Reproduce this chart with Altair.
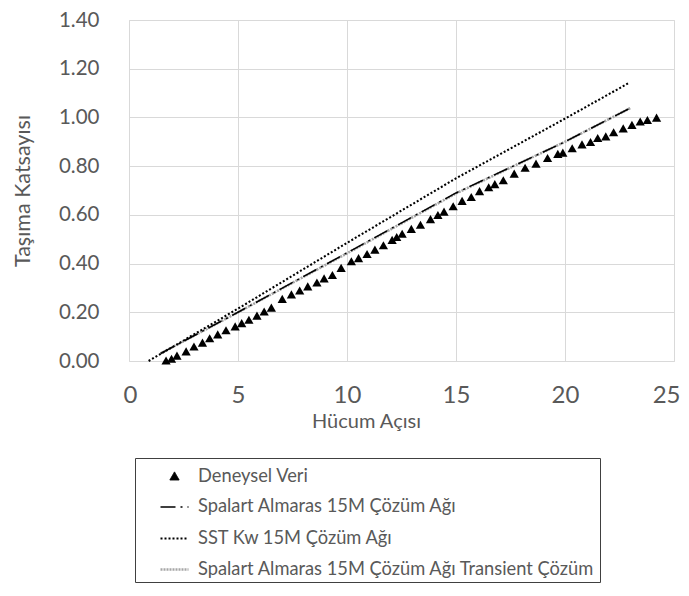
import altair as alt
import pandas as pd

series_names = [
    "Deneysel Veri",
    "Spalart Almaras 15M Çözüm Ağı",
    "SST Kw 15M Çözüm Ağı",
    "Spalart Almaras 15M Çözüm Ağı Transient Çözüm",
]

exp_x = [1.70, 1.95, 2.20, 2.62, 2.98, 3.37, 3.70, 4.07, 4.45, 4.87, 5.17, 5.50,
         5.87, 6.20, 6.53, 7.03, 7.45, 7.83, 8.20, 8.62, 8.95, 9.33, 9.73, 10.20,
         10.53, 10.92, 11.28, 11.67, 12.07, 12.28, 12.53, 12.95, 13.37, 13.83,
         14.17, 14.45, 14.87, 15.28, 15.70, 16.08, 16.50, 16.78, 17.17, 17.67,
         18.17, 18.67, 19.20, 19.67, 19.90, 20.33, 20.78, 21.17, 21.50, 21.87,
         22.23, 22.67, 23.07, 23.45, 23.78, 24.20]
exp_y = [0.000, 0.007, 0.020, 0.037, 0.057, 0.073, 0.091, 0.107, 0.124, 0.140,
         0.153, 0.167, 0.184, 0.201, 0.217, 0.253, 0.271, 0.287, 0.304, 0.320,
         0.337, 0.351, 0.380, 0.407, 0.420, 0.437, 0.455, 0.473, 0.495, 0.507,
         0.520, 0.540, 0.557, 0.580, 0.597, 0.611, 0.633, 0.655, 0.671, 0.695,
         0.711, 0.724, 0.740, 0.767, 0.791, 0.808, 0.831, 0.848, 0.853, 0.871,
         0.887, 0.897, 0.913, 0.920, 0.937, 0.953, 0.967, 0.981, 0.987, 0.997]

sa_x = [1.45, 5.0, 10.0, 15.0, 20.0, 23.03]
sa_y = [0.031, 0.200, 0.444, 0.690, 0.900, 1.040]

sst_x = [0.90, 5.0, 10.0, 15.0, 20.0, 22.90]
sst_y = [0.000, 0.215, 0.485, 0.750, 0.995, 1.140]

tr_x = [1.45, 5.0, 10.0, 15.0, 20.0, 23.03]
tr_y = [0.031, 0.200, 0.442, 0.688, 0.900, 1.040]

x_ticks = [0, 5, 10, 15, 20, 25]
y_ticks = [0.0, 0.2, 0.4, 0.6, 0.8, 1.0, 1.2, 1.4]

rows = []
for name, xs, ys in [
    (series_names[0], exp_x, exp_y),
    (series_names[1], sa_x, sa_y),
    (series_names[2], sst_x, sst_y),
    (series_names[3], tr_x, tr_y),
]:
    for a, b in zip(xs, ys):
        rows.append({"series": name, "x": a, "y": b})
df = pd.DataFrame(rows)

FONT = "Lato"
TXT = "#595959"
SYM = 784
TRIANGLE = "M0,-0.33L0.33,0.25L-0.33,0.25Z"

leg = alt.Legend(
    title=None,
    orient="none",
    legendX=6,
    legendY=438,
    padding=4,
    strokeColor="#404040",
    fillColor="#ffffff",
    labelFont=FONT,
    labelFontSize=18.3,
    labelColor=TXT,
    labelOffset=8,
    rowPadding=7,
    labelLimit=700,
    symbolSize=SYM,
    symbolOffset=20,
)

color_scale = alt.Scale(domain=series_names, range=["#000000", "#000000", "#000000", "#a6a6a6"])
shape_scale = alt.Scale(domain=series_names, range=[TRIANGLE, "stroke", "stroke", "stroke"])
dash_scale = alt.Scale(domain=series_names, range=[[1, 0], [15, 5, 2, 5], [2, 2], [2, 1]])
sw_scale = alt.Scale(domain=series_names, range=[1, 2.6, 2, 1])

x_enc = alt.X(
    "x:Q",
    scale=alt.Scale(domain=[0, 25], nice=False),
    axis=alt.Axis(
        values=x_ticks, format="d", title="Hücum Açısı", grid=True, ticks=False,
        domain=False, labelFontSize=24, labelColor=TXT, labelFont=FONT,
        labelPadding=22, titleFontSize=20, titleColor=TXT, titleFont=FONT,
        titleFontWeight="normal", titlePadding=4, gridColor="#d9d9d9",
        labelFlush=True, labelFlushOffset=6, titleX=237, titleAlign="center",
    ),
)
y_enc = alt.Y(
    "y:Q",
    scale=alt.Scale(domain=[0, 1.4], nice=False),
    axis=alt.Axis(
        values=y_ticks, format=".2f", title="Taşıma Katsayısı", grid=True,
        ticks=False, domain=False, labelFontSize=20.5, labelColor=TXT,
        labelFont=FONT, labelPadding=30, titleFontSize=21.5, titleColor=TXT,
        titleFont=FONT, titleFontWeight="normal", titlePadding=24,
        gridColor="#d9d9d9",
    ),
)

base = alt.Chart(df)

points = base.transform_filter(
    alt.datum.series == series_names[0]
).mark_point(filled=True, opacity=1, size=SYM).encode(
    x=x_enc,
    y=y_enc,
    color=alt.Color("series:N", scale=color_scale, legend=leg),
    shape=alt.Shape("series:N", scale=shape_scale, legend=leg),
)

line_enc = dict(
    x=x_enc,
    y=y_enc,
    color=alt.Color("series:N", scale=color_scale, legend=leg),
    strokeDash=alt.StrokeDash("series:N", scale=dash_scale, legend=leg),
    strokeWidth=alt.StrokeWidth("series:N", scale=sw_scale, legend=leg),
)

transient = base.transform_filter(
    alt.datum.series == series_names[3]
).mark_line().encode(**line_enc)

lines = base.transform_filter(
    (alt.datum.series == series_names[1]) | (alt.datum.series == series_names[2])
).mark_line().encode(**line_enc)

chart = alt.layer(transient, lines, points).properties(
    width=545,
    height=341,
    autosize=alt.AutoSizeParams(type="none"),
    padding={"left": 121, "top": 12, "right": 7, "bottom": 227},
).configure_view(stroke=None).configure(font=FONT)

chart.save("out.html", embed_options={"renderer": "svg", "actions": False})
